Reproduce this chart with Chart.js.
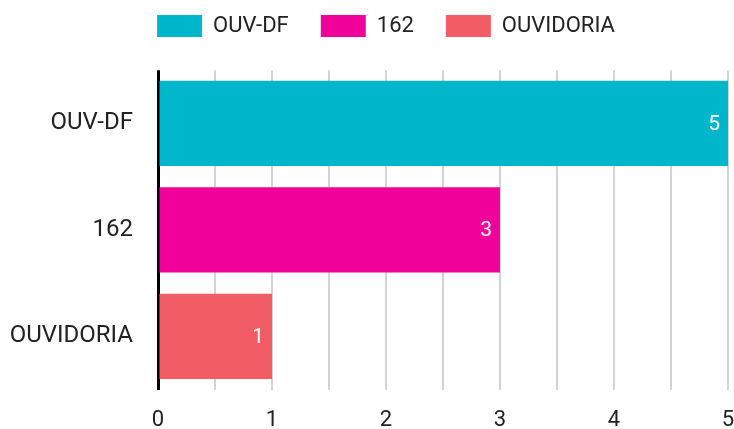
<!DOCTYPE html>
<html>
<head>
<meta charset="utf-8">
<script src="https://cdn.jsdelivr.net/npm/chart.js@4"></script>
<style>
  html, body { margin: 0; padding: 0; background: #fff; }
  #wrap { width: 734px; height: 429px; }
</style>
</head>
<body>
<div id="wrap"><canvas id="chart"></canvas></div>
<script>
const categories = ["OUV-DF", "162", "OUVIDORIA"];
const counts = [5, 3, 1];
const barColors = ["#00b6cb", "#f0029a", "#f25c64"];
const axisMin = 0;
const axisMax = 5;

// one dataset per category so the legend shows each one
const datasets = categories.map(function (name, i) {
  return {
    label: name,
    data: categories.map(function (c, j) { return j === i ? counts[i] : null; }),
    backgroundColor: barColors[i],
    barPercentage: 0.8,
    categoryPercentage: 1.0,
  };
});

// white value labels at the end of each bar
const valueLabels = {
  id: "valueLabels",
  afterDatasetsDraw: function (chart) {
    const ctx = chart.ctx;
    ctx.save();
    ctx.font = "21px Roboto";
    ctx.fillStyle = "#ffffff";
    ctx.textAlign = "right";
    ctx.textBaseline = "middle";
    chart.data.datasets.forEach(function (ds, i) {
      const meta = chart.getDatasetMeta(i);
      meta.data.forEach(function (bar, j) {
        const v = ds.data[j];
        if (v == null) return;
        ctx.fillText(String(v), bar.x - 8, bar.y + 1);
      });
    });
    ctx.restore();
  },
};

new Chart(document.getElementById("chart"), {
  type: "bar",
  data: { labels: categories, datasets: datasets },
  plugins: [valueLabels],
  options: {
    indexAxis: "y",
    responsive: true,
    maintainAspectRatio: false,
    animation: false,
    // right padding is negative so the legend centre sits at x=384
    layout: { padding: { left: 0, right: -38, top: -17, bottom: -30 } },
    plugins: {
      tooltip: { enabled: false },
      legend: {
        position: "top",
        labels: {
          boxWidth: 45,
          boxHeight: 22,
          padding: 32,
          color: "#222",
          font: { family: "Roboto", size: 22 },
        },
      },
      // empty spacer between legend and plot
      subtitle: {
        display: true,
        text: "",
        position: "top",
        weight: 500,
        font: { size: 1 },
        padding: { top: 0, bottom: 22 },
      },
    },
    scales: {
      x: {
        stacked: true,
        min: axisMin,
        max: axisMax,
        border: { display: false },
        grid: {
          drawTicks: false,
          color: function (c) { return c.tick && c.tick.value === 0 ? "#000" : "#d3d3d3"; },
          lineWidth: function (c) { return c.tick && c.tick.value === 0 ? 3 : 2; },
        },
        afterFit: function (scale) { scale.paddingRight = 6; },
        ticks: {
          stepSize: 0.5,
          padding: 18,
          color: "#222",
          font: { family: "Roboto", size: 22 },
          callback: function (v) { return Number.isInteger(v) ? String(v) : ""; },
        },
      },
      y: {
        stacked: true,
        border: { display: false },
        grid: { display: false, drawTicks: false },
        afterFit: function (scale) { scale.width = 158; },
        ticks: {
          padding: 25,
          color: "#222",
          font: { family: "Roboto", size: 24 },
        },
      },
    },
  },
});
</script>
</body>
</html>
